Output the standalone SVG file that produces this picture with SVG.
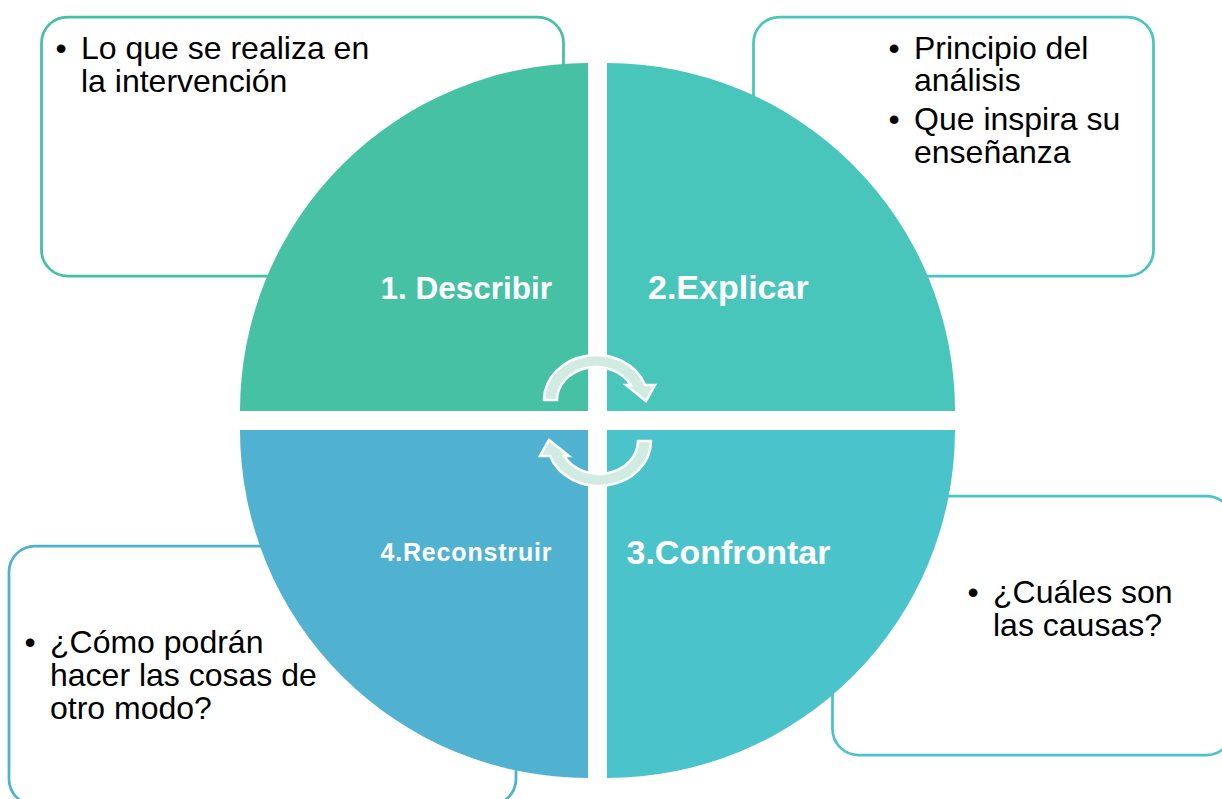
<svg xmlns="http://www.w3.org/2000/svg" width="1222" height="799" viewBox="0 0 1222 799">
  <defs>
    <style>
      .box { fill: #FFFFFF; stroke-width: 2.75; }
      .txt { font-family: "Liberation Sans", Arial, sans-serif; font-size: 32px; fill: #000000; }
      .lbl { font-family: "Liberation Sans", Arial, sans-serif; font-weight: bold; fill: #FFFFFF; }
      .arr { fill: #D2EBE2; stroke: #FFFFFF; stroke-width: 2.5; stroke-linejoin: miter; }
    </style>
    <path id="cycArrow" class="arr" d="M 544 400 A 52 45 0 0 1 645 385 L 655 385 L 646 401 L 626 385 L 630.7 385 A 39 33 0 0 0 557 400 Z"/>
  </defs>
  <rect width="1222" height="799" fill="#FFFFFF"/>

  <g id="box-describir">
    <rect class="box" x="41.5" y="17" width="522" height="259" rx="26" ry="26" stroke="#45C0A2"/>
    <text class="txt" x="55.5" y="59">•</text>
    <text class="txt"><tspan x="81" y="59">Lo que se realiza en</tspan><tspan x="81" y="92">la intervención</tspan></text>
  </g>

  <g id="box-explicar">
    <rect class="box" x="753.5" y="17" width="400" height="259" rx="26" ry="26" stroke="#48C6BC"/>
    <text class="txt"><tspan x="888.5" y="59">•</tspan><tspan x="914" y="59">Principio del</tspan><tspan x="914" y="91">análisis</tspan><tspan x="888.5" y="130">•</tspan><tspan x="914" y="130">Que inspira su</tspan><tspan x="914" y="163">enseñanza</tspan></text>
  </g>

  <g id="box-confrontar">
    <rect class="box" x="832.5" y="496" width="400" height="259" rx="26" ry="26" stroke="#4BC3CB"/>
    <text class="txt" x="967.5" y="603">•</text>
    <text class="txt"><tspan x="993" y="603">¿Cuáles son</tspan><tspan x="993" y="636">las causas?</tspan></text>
  </g>

  <g id="box-reconstruir">
    <rect class="box" x="9" y="546" width="507" height="259" rx="26" ry="26" stroke="#4FB1CF"/>
    <text class="txt" x="24.5" y="653">•</text>
    <text class="txt"><tspan x="50" y="653">¿Cómo podrán</tspan><tspan x="50" y="686">hacer las cosas de</tspan><tspan x="50" y="719">otro modo?</tspan></text>
  </g>

  <g id="q1-describir">
    <path d="M 588 411 L 240 411 A 348 348 0 0 1 588 63 Z" fill="#46C1A3"/>
    <text class="lbl" x="380.5" y="299" font-size="31.5">1. Describir</text>
  </g>

  <g id="q2-explicar">
    <path d="M 607 411 L 607 63 A 348 348 0 0 1 955 411 Z" fill="#48C6BB"/>
    <text class="lbl" x="648" y="299" font-size="34">2.Explicar</text>
  </g>

  <g id="q3-confrontar">
    <path d="M 607 430 L 955 430 A 348 348 0 0 1 607 778 Z" fill="#4BC3CB"/>
    <text class="lbl" x="626.5" y="564" font-size="34">3.Confrontar</text>
  </g>

  <g id="q4-reconstruir">
    <path d="M 588 430 L 588 778 A 348 348 0 0 1 240 430 Z" fill="#50B2D0"/>
    <text class="lbl" x="380.5" y="561" font-size="25" textLength="171" lengthAdjust="spacing">4.Reconstruir</text>
  </g>

  <g id="connectors">
    <use href="#cycArrow"/>
    <use href="#cycArrow" transform="rotate(180 597.5 420.5)"/>
  </g>
</svg>
